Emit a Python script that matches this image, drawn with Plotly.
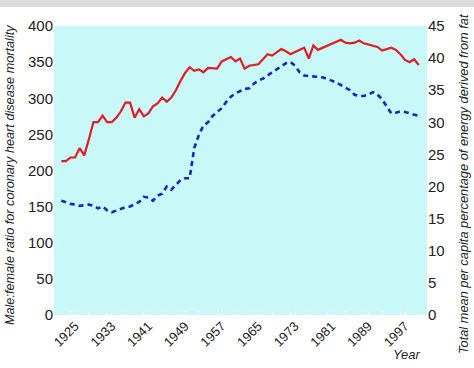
import plotly.graph_objects as go

years = list(range(1922, 2001))

ratio = [213, 213, 218, 218, 231, 221, 243, 267, 267, 276,
         267, 267, 273, 282, 294, 294, 273, 285, 275, 279,
         289, 293, 301, 295, 301, 311, 324, 335, 343, 338,
         340, 336, 342, 341, 341, 351, 354, 357, 351, 355,
         341, 345, 346, 347, 354, 361, 359, 364, 368, 365,
         361, 364, 367, 370, 355, 373, 367, 370, 373, 376,
         378, 381, 377, 376, 377, 380, 376, 374, 372, 371,
         366, 368, 370, 367, 361, 353, 350, 354, 346]

fat = [17.8, 17.5, 17.3, 17.2, 17.0, 17.1, 17.2, 17.0, 16.6, 16.9,
       16.3, 16.0, 16.3, 16.5, 16.8, 16.9, 17.2, 17.6, 18.4, 18.3,
       17.8, 18.6, 18.9, 20.0, 19.5, 20.3, 21.0, 21.3, 21.3, 26.0,
       28.0, 29.5, 30.0, 31.0, 31.6, 32.2, 33.2, 34.0, 34.5, 34.9,
       35.2, 35.3, 36.0, 36.5, 36.8, 37.3, 37.8, 38.3, 38.8, 39.2,
       39.4, 38.8, 37.8, 37.3, 37.2, 37.2, 37.1, 37.0, 36.8, 36.5,
       36.2, 35.8, 35.5, 35.0, 34.3, 34.1, 34.1, 34.3, 34.7, 34.3,
       33.6, 32.4, 31.4, 31.5, 31.7, 31.6, 31.4, 31.2, 31.0]

left_title = "Male:female ratio for coronary heart disease mortality"
right_title = "Total mean per capita percentage of energy derived from fat"
x_title = "Year"

FONT = "Liberation Sans Narrow, Arial Narrow, Liberation Sans, sans-serif"
TXT = "#222222"

fig = go.Figure()
fig.add_trace(go.Scatter(x=years, y=ratio, mode="lines",
                         line=dict(color="#e31b23", width=2.2), yaxis="y",
                         showlegend=False))
fig.add_trace(go.Scatter(x=years, y=fat, mode="lines",
                         line=dict(color="#1426c4", width=2.6, dash="5px,4px"),
                         yaxis="y2", showlegend=False))

fig.update_layout(
    width=474, height=368,
    margin=dict(l=54, r=47, t=26, b=53),
    paper_bgcolor="white",
    plot_bgcolor="#c8f8f8",
    font=dict(family=FONT, color=TXT, size=14),
    xaxis=dict(range=[1920.4, 2001.8], tick0=1925, dtick=8, tickangle=-45,
               ticks="inside", ticklen=4, tickcolor="white", showgrid=False,
               zeroline=False, showline=False, tickfont=dict(size=13),
               minor=dict(dtick=4, ticks="inside", ticklen=4, tickcolor="white")),
    yaxis=dict(range=[0, 400], dtick=50, ticks="inside", ticklen=4,
               tickcolor="white", showgrid=False, zeroline=False, showline=False,
               tickfont=dict(size=15)),
    yaxis2=dict(range=[0, 45], dtick=5, overlaying="y", side="right",
                showgrid=False, zeroline=False, showline=False,
                tickfont=dict(size=15)),
    shapes=[dict(type="rect", xref="paper", yref="paper", x0=-0.2, x1=1.2,
                 y0=1 + 19 / 289, y1=1.2, fillcolor="#dcdcdc", line_width=0,
                 layer="below")],
    annotations=[
        dict(text=x_title, xref="paper", yref="paper", x=0.945, y=-0.138,
             showarrow=False, font=dict(size=13, style="italic"),
             xanchor="center", yanchor="middle"),
        dict(text=left_title, xref="paper", yref="paper", x=-0.118, y=0.484,
             textangle=-90, showarrow=False, font=dict(size=12.7, style="italic"),
             xanchor="center", yanchor="middle"),
        dict(text=right_title, xref="paper", yref="paper", x=1.0965, y=0.453,
             textangle=-90, showarrow=False, font=dict(size=12.8, style="italic"),
             xanchor="center", yanchor="middle"),
    ],
)

fig.write_html("out.html", config={"displayModeBar": False},
               post_script="document.body.style.margin='0';document.body.style.padding='0';")
